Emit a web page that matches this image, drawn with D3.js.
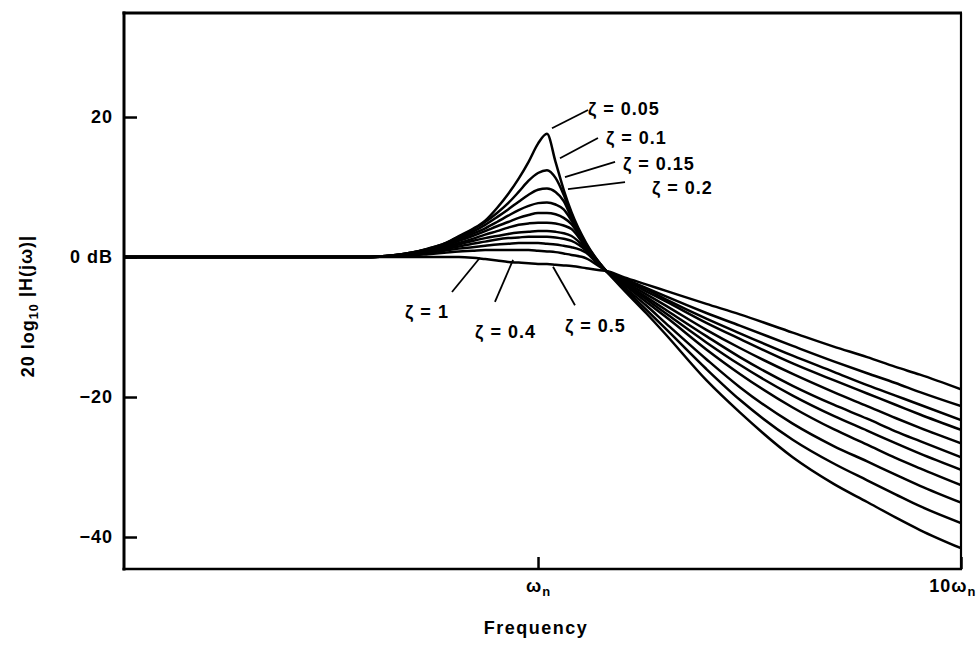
<!DOCTYPE html>
<html><head><meta charset="utf-8">
<script src="https://cdn.jsdelivr.net/npm/d3@7"></script>
<style>
html,body{margin:0;padding:0;background:#fff;}
svg{display:block;}
text{font-family:"Liberation Sans",Arial,Helvetica,sans-serif;fill:#000;font-weight:bold;}
</style></head><body>
<svg id="chart" width="978" height="650"></svg>
<script>
// ---- data (frequency as multiple of ωn, magnitude in dB) ----
const freqs = [0.105,0.2,0.3,0.4,0.45,0.5,0.55,0.6,0.65,0.7,0.75,0.8,0.85,0.9,0.95,1.0,1.05,1.1,1.15,1.2,1.3,1.4,1.45,1.6,1.8,2,2.5,3,4,5,6,7,8,10];
const zeta005 = [0,0,0,0, 0.2,0.6,1.2,1.9,3.0,4.0,5.2,7.0,9.0,11.2,13.6,16.2,17.6,13.6,9.6,6.4,2.0,-0.9,-2.0, -4.8,-8.0,-11.0,-17.6,-22.2,-28.6,-32.4,-35.0,-37.2,-39.0,-41.6];
const zeta010 = [0,0,0,0, 0.2,0.6,1.2,1.9,2.9,3.9,5.0,6.3,7.7,9.3,10.9,12.0,12.4,11.3,8.9,6.0,1.8,-0.9,-2.0, -4.5,-7.5,-10.2,-16.0,-20.4,-26.1,-29.5,-31.9,-33.9,-35.6,-38.0];
const zeta015 = [0,0,0,0, 0.2,0.6,1.1,1.8,2.7,3.6,4.6,5.7,6.8,7.9,8.9,9.6,9.8,9.3,8.0,5.6,1.6,-1.0,-2.0, -4.3,-6.9,-9.4,-14.6,-18.6,-23.8,-27.0,-29.2,-31.1,-32.7,-35.1];
const zeta020 = [0,0,0,0, 0.2,0.5,1.0,1.7,2.5,3.3,4.1,5.0,5.9,6.7,7.3,7.7,7.8,7.5,6.8,5.2,1.5,-1.0,-2.0, -4.0,-6.4,-8.5,-13.2,-16.7,-21.5,-24.6,-26.8,-28.7,-30.2,-32.6];
const zeta025 = [0,0,0,0, 0.2,0.5,1.0,1.6,2.3,3.0,3.7,4.4,5.0,5.6,6.0,6.3,6.3,6.1,5.6,4.7,1.4,-1.1,-2.0, -3.8,-6.0,-8.0,-12.2,-15.4,-19.8,-22.7,-24.8,-26.6,-28.1,-30.4];
const zeta030 = [0,0,0,0, 0.1,0.4,0.9,1.4,2.0,2.6,3.2,3.7,4.2,4.6,4.8,4.9,4.9,4.8,4.5,4.0,1.3,-1.1,-2.0, -3.7,-5.7,-7.5,-11.3,-14.3,-18.4,-21.1,-23.1,-24.9,-26.3,-28.6];
const zeta035 = [0,0,0,0, 0.1,0.4,0.8,1.3,1.8,2.3,2.7,3.0,3.3,3.5,3.6,3.7,3.7,3.6,3.4,3.0,1.1,-1.2,-2.0, -3.5,-5.3,-6.9,-10.4,-13.0,-16.7,-19.3,-21.3,-23.0,-24.4,-26.6];
const zeta040 = [0,0,0,0, 0.1,0.3,0.7,1.1,1.5,1.9,2.2,2.5,2.7,2.8,2.9,2.9,2.9,2.8,2.6,2.3,0.9,-1.2,-2.0, -3.3,-4.9,-6.3,-9.4,-11.7,-15.2,-17.6,-19.5,-21.1,-22.5,-24.7];
const zeta050 = [0,0,0,0, 0.1,0.3,0.6,0.9,1.2,1.4,1.6,1.8,1.9,2.0,2.0,2.0,1.9,1.8,1.6,1.4,0.6,-1.3,-2.0, -3.2,-4.6,-6.0,-8.8,-10.9,-14.1,-16.4,-18.3,-19.8,-21.1,-23.3];
const zeta070 = [0,0,0,0, 0.1,0.2,0.4,0.6,0.8,0.9,1.0,1.0,1.0,1.0,1.0,0.9,0.8,0.7,0.5,0.3,-0.2,-1.4,-2.0, -3.1,-4.4,-5.6,-8.0,-9.8,-12.7,-14.9,-16.6,-18.0,-19.3,-21.3];
const zeta100 = [0,0,0,0, 0.0,0.0,0.0,0.0,0.0,-0.1,-0.3,-0.5,-0.7,-0.8,-0.9,-1.0,-1.0,-1.1,-1.2,-1.3,-1.6,-1.9,-2.0, -2.9,-3.9,-4.8,-6.7,-8.2,-10.8,-12.8,-14.3,-15.7,-16.8,-18.9];
const allSeries = [zeta005,zeta010,zeta015,zeta020,zeta025,zeta030,zeta035,zeta040,zeta050,zeta070,zeta100];

const yTickValues = [20,0,-20,-40];
const yTickLabels = ["20","0 dB","\u221220","\u221240"];
const xTickValues = [1,10];
const xTickLabels = [["","\u03c9","n"],["10","\u03c9","n"]];

// annotation texts, anchored in data units (ω/ωn, dB)
const labelText  = ["\u03b6 = 0.05","\u03b6 = 0.1","\u03b6 = 0.15","\u03b6 = 0.2","\u03b6 = 1","\u03b6 = 0.4","\u03b6 = 0.5"];
const labelAt    = [[1.313,20.3],[1.448,16.1],[1.588,12.4],[1.860,9.0],[0.485,-8.7],[0.710,-11.6],[1.158,-10.7]];
const pointerFrom= [[1.313,21.0],[1.386,17.0],[1.521,13.6],[1.606,10.7],[0.626,-5.0],[0.791,-6.4],[1.223,-6.9]];
const pointerTo  = [[1.079,18.4],[1.127,14.1],[1.158,11.4],[1.177,9.7],[0.729,-0.1],[0.873,-0.4],[1.085,-1.4]];

// ---- drawing ----
const svg = d3.select("#chart");
const L=124, R=961, T=13, B=569;
const x = d3.scaleLog().domain([0.105,10]).range([L,R]);
const y = d3.scaleLinear().domain([-44.57,34.86]).range([B,T]);

svg.append("defs").append("clipPath").attr("id","clip")
  .append("rect").attr("x",L).attr("y",T).attr("width",R-L).attr("height",B-T);

const line = d3.line().x((d,i)=>x(freqs[i])).y(d=>y(d)).curve(d3.curveMonotoneX);
svg.append("g").attr("clip-path","url(#clip)")
  .selectAll("path").data(allSeries).join("path")
  .attr("d",line).attr("fill","none").attr("stroke","#000")
  .attr("stroke-width",2.5).attr("stroke-linejoin","round");

// axes
const fontSize = 18;
const gy = svg.append("g").attr("transform",`translate(${L},0)`)
  .call(d3.axisLeft(y).tickValues(yTickValues).tickSize(-13).tickPadding(11)
        .tickFormat((d,i)=>yTickLabels[i]));
gy.select(".domain").remove();
gy.selectAll(".tick line").attr("stroke","#000").attr("stroke-width",2.5);
gy.selectAll(".tick text").attr("font-size",fontSize).attr("font-family","Liberation Sans, Arial, sans-serif")
  .attr("font-weight","bold").attr("fill","#000").attr("letter-spacing","1px");

const gx = svg.append("g").attr("transform",`translate(0,${B})`)
  .call(d3.axisBottom(x).tickValues(xTickValues).tickSize(-12).tickPadding(10).tickFormat(()=>""));
gx.select(".domain").remove();
gx.selectAll(".tick line").attr("stroke","#000").attr("stroke-width",2.5);
gx.selectAll(".tick text").each(function(d,i){
  const t = d3.select(this).attr("font-size",fontSize).attr("font-family","Liberation Sans, Arial, sans-serif")
    .attr("font-weight","bold").attr("fill","#000").attr("letter-spacing","1px").attr("dy","0.71em");
  if(i===1){ t.attr("text-anchor","end").attr("dx",15); }
  t.append("tspan").text(xTickLabels[i][0]);
  t.append("tspan").text(xTickLabels[i][1]);
  t.append("tspan").attr("font-size",fontSize*0.72).attr("dy","0.3em").text(xTickLabels[i][2]);
});

// frame
const frame = svg.append("g").attr("stroke","#000").attr("fill","none");
frame.append("line").attr("x1",L).attr("x2",L).attr("y1",T-1.5).attr("y2",B+1.5).attr("stroke-width",3);
frame.append("line").attr("x1",L-1.5).attr("x2",R+1).attr("y1",T).attr("y2",T).attr("stroke-width",3);
frame.append("line").attr("x1",L-1.5).attr("x2",R+1).attr("y1",B).attr("y2",B).attr("stroke-width",2.5);
frame.append("line").attr("x1",R).attr("x2",R).attr("y1",T).attr("y2",B+1).attr("stroke-width",2.2);

// axis titles
svg.append("text").attr("x",536).attr("y",634).attr("text-anchor","middle")
  .attr("font-size",fontSize).attr("letter-spacing","1.5px").text("Frequency");
const yl = svg.append("text").attr("transform","translate(34,306) rotate(-90)")
  .attr("text-anchor","middle").attr("font-size",fontSize).attr("letter-spacing","1px");
yl.append("tspan").text("20 log");
yl.append("tspan").attr("font-size",fontSize*0.7).attr("dy","0.3em").text("10");
yl.append("tspan").attr("dy","-0.3em").text(" |H(j\u03c9)|");

// annotations
const ann = svg.append("g");
ann.selectAll("line").data(pointerFrom).join("line")
  .attr("x1",d=>x(d[0])).attr("y1",d=>y(d[1]))
  .attr("x2",(d,i)=>x(pointerTo[i][0])).attr("y2",(d,i)=>y(pointerTo[i][1]))
  .attr("stroke","#000").attr("stroke-width",1.8);
ann.selectAll("text").data(labelText).join("text")
  .attr("x",(d,i)=>x(labelAt[i][0])).attr("y",(d,i)=>y(labelAt[i][1]))
  .attr("font-size",fontSize).attr("letter-spacing","1px").text(d=>d);
</script>
</body></html>
